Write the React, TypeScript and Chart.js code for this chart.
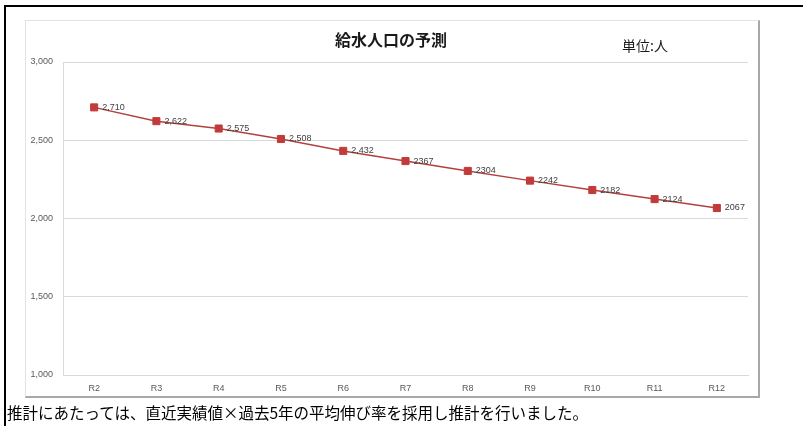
import React, { useEffect, useRef } from "react";
import { Chart, registerables } from "chart.js";

Chart.register(...registerables);

// 年度区分
const years = ["R2", "R3", "R4", "R5", "R6", "R7", "R8", "R9", "R10", "R11", "R12"];
// 給水人口の予測値（人）
const population = [2710, 2622, 2575, 2508, 2432, 2367, 2304, 2242, 2182, 2124, 2067];
// 各点に添える数値ラベル
const pointLabels = ["2,710", "2,622", "2,575", "2,508", "2,432", "2367", "2304", "2242", "2182", "2124", "2067"];
// 縦軸の範囲と目盛間隔
const yMin = 1000;
const yMax = 3000;
const yStep = 500;

const chartTitle = "給水人口の予測";
const unitText = "単位:人";
const note = "推計にあたっては、直近実績値×過去5年の平均伸び率を採用し推計を行いました。";

const W = 803;
const H = 426;

const headerPlugin = {
  id: "header",
  afterDraw(chart: any) {
    const ctx = chart.ctx;
    ctx.save();
    ctx.fillStyle = "#1a1a1a";
    ctx.textBaseline = "middle";
    ctx.textAlign = "center";
    ctx.font = "bold 16px 'Noto Sans CJK JP'";
    ctx.fillText(chartTitle, 391, 40);
    ctx.textAlign = "left";
    ctx.font = "14px 'Noto Sans CJK JP'";
    ctx.fillText(unitText, 622, 46);
    ctx.restore();
  },
};

const pointLabelPlugin = {
  id: "pointLabels",
  afterDatasetsDraw(chart: any) {
    const ctx = chart.ctx;
    const meta = chart.getDatasetMeta(0);
    ctx.save();
    ctx.font = "9px 'Liberation Sans'";
    ctx.fillStyle = "#404040";
    ctx.textAlign = "left";
    ctx.textBaseline = "middle";
    meta.data.forEach((pt: any, i: number) => {
      ctx.fillText(pointLabels[i], pt.x + 8, pt.y);
    });
    ctx.restore();
  },
};

function PopulationChart() {
  const ref = useRef<HTMLCanvasElement | null>(null);

  useEffect(() => {
    if (!ref.current) return;
    const chart = new Chart(ref.current, {
      type: "line",
      data: {
        labels: years,
        datasets: [
          {
            data: population,
            borderColor: "#B3403D",
            borderWidth: 1.5,
            backgroundColor: "#C23B3B",
            pointBackgroundColor: "#C23B3B",
            pointBorderColor: "#C23B3B",
            pointBorderWidth: 1,
            pointStyle: "rect",
            pointRadius: 5,
            tension: 0,
          },
        ],
      },
      options: {
        responsive: false,
        animation: false,
        layout: { padding: { left: 0, right: 55, top: 62, bottom: 0 } },
        plugins: {
          legend: { display: false },
          title: { display: false },
          tooltip: { enabled: false },
        },
        scales: {
          x: {
            offset: true,
            grid: { display: false, drawTicks: false },
            border: { display: true, color: "#d9d9d9", width: 1 },
            ticks: {
              padding: 8,
              color: "#595959",
              font: { family: "'Liberation Sans'", size: 9 },
              maxRotation: 0,
            },
            afterFit(scale: any) {
              scale.height = H - 375;
            },
          },
          y: {
            min: yMin,
            max: yMax,
            grid: { color: "#d9d9d9", lineWidth: 1, drawTicks: false },
            border: { display: true, color: "#d9d9d9", width: 1 },
            ticks: {
              stepSize: yStep,
              padding: 10,
              color: "#595959",
              font: { family: "'Liberation Sans'", size: 9 },
              callback: (v: any) => Number(v).toLocaleString("en-US"),
            },
            afterFit(scale: any) {
              scale.width = 63;
            },
          },
        },
      },
      plugins: [headerPlugin, pointLabelPlugin],
    });
    return () => chart.destroy();
  }, []);

  return (
    <canvas
      ref={ref}
      width={W}
      height={H}
      style={{ position: "absolute", left: 0, top: 0, width: W, height: H }}
    />
  );
}

export default function App() {
  return (
    <div
      style={{
        position: "fixed",
        left: 0,
        top: 0,
        width: W,
        height: H,
        background: "#fff",
        overflow: "hidden",
      }}
    >
      <div
        style={{
          position: "absolute",
          left: 4,
          top: 5,
          width: W - 4,
          height: H - 5,
          borderTop: "2px solid #000",
          borderLeft: "2px solid #000",
          boxSizing: "border-box",
        }}
      />
      <div
        style={{
          position: "absolute",
          left: 25,
          top: 20,
          width: 735,
          height: 378,
          borderTop: "1px solid #e3e3e3",
          borderLeft: "1px solid #e3e3e3",
          borderRight: "2px solid #a8a8a8",
          borderBottom: "2px solid #a8a8a8",
          boxSizing: "border-box",
        }}
      />
      <PopulationChart />
      <div
        style={{
          position: "absolute",
          left: 7,
          top: 402,
          fontFamily: "'Noto Sans CJK JP'",
          fontSize: 15.5,
          lineHeight: "20px",
          color: "#000",
          whiteSpace: "nowrap",
        }}
      >
        {note}
      </div>
    </div>
  );
}
